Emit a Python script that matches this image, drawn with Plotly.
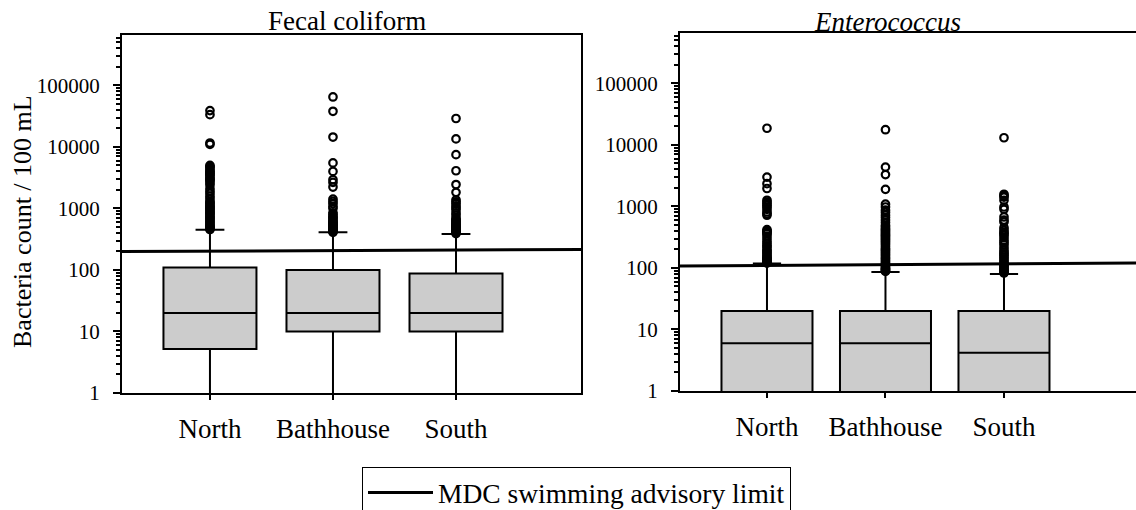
import plotly.graph_objects as go

W, H = 1136, 510

sites = ["North", "Bathhouse", "South"]
site_pos = [0, 1, 2]

# Fecal coliform box statistics (counts / 100 mL)
fc_q1 = [5.2, 10, 10]
fc_median = [20, 20, 20]
fc_q3 = [110, 100, 88]
fc_lower = [0.9, 0.9, 0.9]
fc_upper = [450, 410, 385]

# Enterococcus box statistics
ent_q1 = [0.9, 0.9, 0.9]
ent_median = [6, 6, 4.2]
ent_q3 = [20, 20, 20]
ent_lower = [0.9, 0.9, 0.9]
ent_upper = [118, 86, 80]

# Outliers
fc_north_out = [39000, 33500, 11600, 11000, 5000, 4800, 4600, 4270, 4000, 3900, 3700, 3550, 3400,
                3200, 3000, 2950, 2800, 2600, 2400, 2100, 1900, 1750, 1580, 1450, 1310, 1250, 1200,
                1130, 1080, 1030, 1000, 950, 900, 860, 830, 790, 745, 710, 690, 650, 620, 590, 560,
                530, 510, 490, 480, 465, 455]
fc_bath_out = [65000, 38000, 14500, 5500, 4000, 2950, 2650, 2230, 1420, 1300, 1200, 1080, 1000,
               850, 800, 745, 710, 680, 640, 610, 590, 560, 550, 530, 510, 490, 480, 465, 450, 435,
               420, 410]
fc_south_out = [29000, 13500, 7500, 4100, 2450, 1830, 1380, 1280, 1200, 1100, 1020, 950, 850, 780,
                700, 660, 640, 610, 580, 560, 540, 520, 500, 485, 470, 455, 440, 425, 410, 400, 390]

ent_north_out = [18700, 3000, 2350, 1960, 1260, 1180, 1110, 1040, 980, 900, 815, 760, 720, 420,
                 400, 390, 370, 360, 330, 300, 270, 250, 230, 220, 200, 190, 180, 170, 160, 150,
                 145, 140, 135, 130, 125, 122, 120]
ent_bath_out = [17700, 4370, 3300, 1900, 1090, 980, 870, 800, 720, 660, 600, 550, 495, 470, 440,
                420, 400, 380, 360, 345, 330, 315, 300, 285, 270, 255, 240, 225, 210, 200, 190,
                180, 170, 160, 150, 142, 135, 128, 120, 115, 110, 105, 100, 97, 95, 92, 90, 88]
ent_south_out = [13100, 1580, 1500, 1420, 1260, 980, 900, 675, 600, 560, 450, 410, 380, 360, 340,
                 310, 280, 260, 240, 215, 195, 180, 170, 160, 150, 140, 130, 122, 115, 110, 105,
                 100, 95, 91, 88, 85, 83]

# MDC swimming advisory limit (as drawn, left end -> right end)
fc_limit = [200, 215]
ent_limit = [108, 120]

# axis ranges (category units)
fc_xrange = [-0.715, 3.016]
ent_xrange = [-0.734, 3.114]
y_log_range = [0, 5.82]

major_vals = [1, 10, 100, 1000, 10000, 100000]
major_text = ["1", "10", "100", "1000", "10000", "100000"]
minor_vals = [m * 10 ** d for d in range(0, 6) for m in range(2, 10)]

FONT = "Liberation Serif"
BOX_FILL = "#cccccc"

fig = go.Figure()


def add_panel(q1, med, q3, lo, up, outs, limit, xrange, xa, ya, width, show_leg):
    fig.add_trace(go.Box(
        x=site_pos, q1=q1, median=med, q3=q3, lowerfence=lo, upperfence=up,
        width=width, whiskerwidth=0.31, fillcolor=BOX_FILL,
        line=dict(color="black", width=2), boxpoints=False,
        xaxis=xa, yaxis=ya, showlegend=False, hoverinfo="skip"))
    ox, oy = [], []
    for p, vals in zip(site_pos, outs):
        ox += [p] * len(vals)
        oy += vals
    fig.add_trace(go.Scatter(
        x=ox, y=oy, mode="markers",
        marker=dict(symbol="circle-open", size=7.5, color="black", line=dict(width=2.2)),
        xaxis=xa, yaxis=ya, showlegend=False, hoverinfo="skip"))
    fig.add_trace(go.Scatter(
        x=xrange, y=limit, mode="lines", line=dict(color="black", width=3),
        name="MDC swimming advisory limit", xaxis=xa, yaxis=ya,
        showlegend=show_leg, hoverinfo="skip"))


add_panel(fc_q1, fc_median, fc_q3, fc_lower, fc_upper,
          [fc_north_out, fc_bath_out, fc_south_out], fc_limit, fc_xrange, "x", "y", 0.756, True)
add_panel(ent_q1, ent_median, ent_q3, ent_lower, ent_upper,
          [ent_north_out, ent_bath_out, ent_south_out], ent_limit, ent_xrange, "x2", "y2", 0.768, False)


def px_x(p):
    return p / W


def px_y(p):
    return 1 - p / H


xcommon = dict(tickvals=site_pos, ticktext=sites, ticks="outside", ticklen=5, tickwidth=2,
               tickcolor="black", showline=True, linecolor="black", linewidth=2,
               showgrid=False, zeroline=False, tickfont=dict(family=FONT, size=27, color="black"),
               ticklabelstandoff=6)
ycommon = dict(type="log", range=y_log_range, tickvals=major_vals, ticktext=major_text,
               ticks="outside", ticklen=7, tickwidth=2, tickcolor="black",
               showline=True, linecolor="black", linewidth=2, showgrid=False, zeroline=False,
               tickfont=dict(family=FONT, size=21, color="black"), ticklabelstandoff=9,
               minor=dict(tickvals=minor_vals, ticks="outside", ticklen=4, tickwidth=2,
                          tickcolor="black", showgrid=False))

fig.update_layout(
    width=W, height=H,
    margin=dict(l=0, r=0, t=0, b=0, autoexpand=False),
    paper_bgcolor="white", plot_bgcolor="white",
    font=dict(family=FONT, color="black"),
    xaxis=dict(domain=[px_x(122), px_x(581)], range=fc_xrange, anchor="y", mirror=True, **xcommon),
    yaxis=dict(domain=[px_y(393), px_y(35)], anchor="x", mirror=True, **ycommon),
    xaxis2=dict(domain=[px_x(680), 1.0], range=ent_xrange, anchor="y2", mirror=True, **xcommon),
    yaxis2=dict(domain=[px_y(391), px_y(33)], anchor="x2", mirror=False, **ycommon),
    showlegend=True,
    legend=dict(x=px_x(362), y=px_y(467), xanchor="left", yanchor="top",
                bordercolor="black", borderwidth=1, bgcolor="white", itemwidth=65,
                font=dict(family=FONT, size=27.5, color="black")),
    annotations=[
        dict(text="Fecal coliform", x=px_x(347), y=px_y(38), xref="paper", yref="paper",
             xanchor="center", yanchor="bottom", showarrow=False,
             font=dict(family=FONT, size=27, color="black")),
        dict(text="<i>Enterococcus</i>", x=px_x(887), y=px_y(39), xref="paper", yref="paper",
             xanchor="center", yanchor="bottom", showarrow=False,
             font=dict(family=FONT, size=27, color="black")),
        dict(text="Bacteria count / 100 mL", x=px_x(22), y=px_y(222), xref="paper", yref="paper",
             xanchor="center", yanchor="middle", showarrow=False, textangle=-90,
             font=dict(family=FONT, size=26, color="black")),
    ],
)

fig.write_html("out.html")
